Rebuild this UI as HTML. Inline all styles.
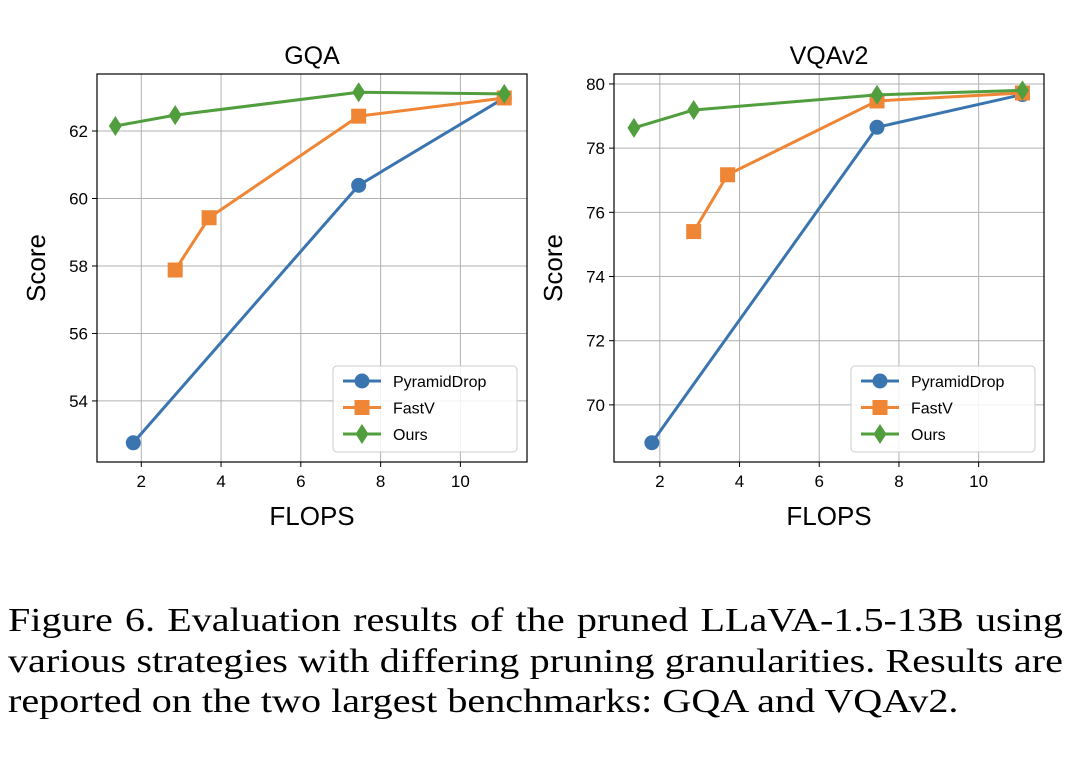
<!DOCTYPE html>
<html><head><meta charset="utf-8">
<style>
html,body{margin:0;padding:0;background:#fff;width:1080px;height:762px;overflow:hidden}
#cap{position:absolute;left:8px;top:601px;width:894px;font-family:"Liberation Serif",serif;font-size:34px;line-height:40.5px;color:#000;white-space:nowrap;transform-origin:0 0;transform:scaleX(1.18)}
#cap .j{text-align:justify;text-align-last:justify}
</style></head><body>
<svg id="chart" width="1080" height="590" style="position:absolute;left:0;top:0" font-family="Liberation Sans, DejaVu Sans, sans-serif"></svg>
<div id="cap"><div class="j">Figure 6. Evaluation results of the pruned LLaVA-1.5-13B using</div><div class="j">various strategies with differing pruning granularities. Results are</div><div>reported on the two largest benchmarks: GQA and VQAv2.</div></div>
<script>
const series = ["PyramidDrop","FastV","Ours"];
const xTicks = [2,4,6,8,10];
const gqaPyrX = [1.8,7.45,11.1], gqaPyrY = [52.76,60.39,62.98];
const gqaFastX = [2.85,3.7,7.45,11.1], gqaFastY = [57.88,59.43,62.44,62.98];
const gqaOursX = [1.35,2.85,7.45,11.1], gqaOursY = [62.15,62.47,63.15,63.1];
const gqaYTicks = [54,56,58,60,62];
const vqaPyrX = [1.8,7.45,11.1], vqaPyrY = [68.82,78.65,79.67];
const vqaFastX = [2.85,3.7,7.45,11.1], vqaFastY = [75.4,77.17,79.47,79.72];
const vqaOursX = [1.35,2.85,7.45,11.1], vqaOursY = [78.63,79.19,79.66,79.8];
const vqaYTicks = [70,72,74,76,78,80];

const NS="http://www.w3.org/2000/svg";
const svg=document.getElementById('chart');
const colors=["#3b75af","#ef8636","#519e3e"];
function mk(tag,attrs,parent){const e=document.createElementNS(NS,tag);for(const k in attrs)e.setAttribute(k,attrs[k]);(parent||svg).appendChild(e);return e;}
function marker(g,shape,x,y,c){
  if(shape===0) return mk('circle',{cx:x,cy:y,r:7.5,fill:c},g);
  if(shape===1) return mk('rect',{x:x-7.5,y:y-7.5,width:15,height:15,fill:c},g);
  return mk('polygon',{points:`${x},${y-10} ${x+6.5},${y} ${x},${y+10} ${x-6.5},${y}`,fill:c},g);
}
function panel(name,L,R,T,B,xmin,xmax,ymin,ymax,yTicks,data,title,legX){
  const g=mk('g',{});
  
  
  const sx=v=>L+(v-xmin)/(xmax-xmin)*(R-L);
  const sy=v=>B-(v-ymin)/(ymax-ymin)*(B-T);
  xTicks.forEach(t=>{
    const X=sx(t);
    const gl=mk('line',{x1:X,x2:X,y1:T,y2:B,stroke:'#b0b0b0','stroke-width':1},g);
    
    mk('line',{x1:X,x2:X,y1:B,y2:B+5,stroke:'#000','stroke-width':1},g);
    const tx=mk('text',{x:X,y:B+25,'font-size':17,'text-anchor':'middle'},g);tx.textContent=t;
    
  });
  yTicks.forEach(t=>{
    const Y=sy(t);
    const gl=mk('line',{x1:L,x2:R,y1:Y,y2:Y,stroke:'#b0b0b0','stroke-width':1},g);
    
    mk('line',{x1:L-5,x2:L,y1:Y,y2:Y,stroke:'#000','stroke-width':1},g);
    const tx=mk('text',{x:L-9,y:Y+6,'font-size':17,'text-anchor':'end'},g);tx.textContent=t;
    
  });
  data.forEach((d,i)=>{
    const pts=d[0].map((x,j)=>sx(x)+','+sy(d[1][j])).join(' ');
    const pl=mk('polyline',{points:pts,fill:'none',stroke:colors[i],'stroke-width':3,'stroke-linejoin':'round'},g);
    
    d[0].forEach((x,j)=>{const m=marker(g,i,sx(x),sy(d[1][j]),colors[i]);
      });
  });
  const fr=mk('rect',{x:L,y:T,width:R-L,height:B-T,fill:'none',stroke:'#000','stroke-width':1.2},g);
  
  const ti=mk('text',{x:(L+R)/2,y:T-10,'font-size':25,'text-anchor':'middle'},g);ti.textContent=title;
  
  const xl=mk('text',{x:(L+R)/2,y:B+63,'font-size':26,'text-anchor':'middle'},g);xl.textContent='FLOPS';
  
  const yl=mk('text',{x:0,y:0,'font-size':26,'text-anchor':'middle',transform:`translate(${L-52},${(T+B)/2}) rotate(-90)`},g);yl.textContent='Score';
  
  const lg=mk('g',{},g);
  
  mk('rect',{x:legX,y:366,width:184,height:86,rx:4,fill:'#fff','fill-opacity':0.85,stroke:'#ccc','stroke-width':1},lg);
  series.forEach((s,i)=>{
    const Y=381+i*26.5;
    mk('line',{x1:legX+10,x2:legX+48,y1:Y,y2:Y,stroke:colors[i],'stroke-width':3},lg);
    marker(lg,i,legX+29,Y,colors[i]);
    const t=mk('text',{x:legX+60,y:Y+6,'font-size':16},lg);t.textContent=s;
    
  });
}
panel('gqa',97,527,74,462,0.89,11.67,52.19,63.69,gqaYTicks,
  [[gqaPyrX,gqaPyrY],[gqaFastX,gqaFastY],[gqaOursX,gqaOursY]],'GQA',333);
panel('vqav2',614,1044,74,462,0.85,11.64,68.22,80.31,vqaYTicks,
  [[vqaPyrX,vqaPyrY],[vqaFastX,vqaFastY],[vqaOursX,vqaOursY]],'VQAv2',851);
</script>
</body></html>
